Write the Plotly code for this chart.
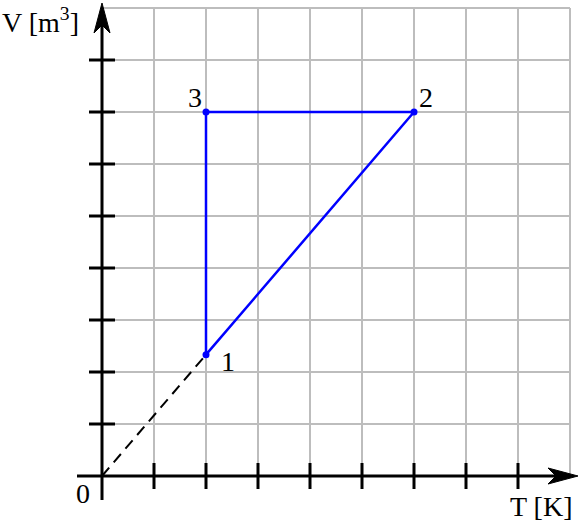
import plotly.graph_objects as go

# ---- data ----
cycle_T = [2, 6, 2, 2]          # 1 -> 2 -> 3 -> 1
cycle_V = [7/3, 7, 7, 7/3]
point_labels = ["1", "2", "3"]
point_T = [2, 6, 2]
point_V = [7/3, 7, 7]
dash_T = [0, 2]
dash_V = [0, 7/3]
tick_vals = [1, 2, 3, 4, 5, 6, 7, 8]
grid_vals = [1, 2, 3, 4, 5, 6, 7, 8, 9]
grid_max = 9

# ---- geometry (pixel scale) ----
W, H = 579, 524
ox, oy, unit = 102, 476, 52.0
x_range = [-ox / unit, (W - ox) / unit]
y_range = [-(H - oy) / unit, oy / unit]
px = 1 / unit

FONT = "Liberation Serif"
FS = 28

fig = go.Figure()

# grid
gx, gy = [], []
for g in grid_vals:
    gx += [g, g, None]; gy += [0, grid_max, None]
    gx += [0, grid_max, None]; gy += [g, g, None]
fig.add_trace(go.Scatter(x=gx, y=gy, mode="lines",
                         line=dict(color="#bdbdbd", width=2), hoverinfo="skip"))

# axes lines
x_tip = (578 - ox) / unit
y_tip = (oy - 3) / unit
fig.add_shape(type="line", x0=-25 * px, y0=0, x1=x_tip - 20 * px, y1=0,
              line=dict(color="black", width=3))
fig.add_shape(type="line", x0=0, y0=-24 * px, x1=0, y1=y_tip - 20 * px,
              line=dict(color="black", width=3))

# arrowheads (stealth)
L, HW, N = 30 * px, 8 * px, 22 * px
fig.add_shape(type="path",
              path=f"M {x_tip},0 L {x_tip-L},{HW} L {x_tip-N},0 L {x_tip-L},{-HW} Z",
              fillcolor="black", line=dict(color="black", width=1))
fig.add_shape(type="path",
              path=f"M 0,{y_tip} L {HW},{y_tip-L} L 0,{y_tip-N} L {-HW},{y_tip-L} Z",
              fillcolor="black", line=dict(color="black", width=1))

# ticks
tl = 13 * px
for t in tick_vals:
    fig.add_shape(type="line", x0=t, x1=t, y0=-tl, y1=tl,
                  line=dict(color="black", width=3))
    fig.add_shape(type="line", x0=-tl, x1=tl, y0=t, y1=t,
                  line=dict(color="black", width=3))

# dashed extension through the origin
fig.add_trace(go.Scatter(x=dash_T, y=dash_V, mode="lines",
                         line=dict(color="black", width=2, dash="11px,7px"),
                         hoverinfo="skip"))

# cycle
fig.add_trace(go.Scatter(x=cycle_T, y=cycle_V, mode="lines",
                         line=dict(color="#0000ff", width=2.5), hoverinfo="skip"))
fig.add_trace(go.Scatter(x=point_T, y=point_V, mode="markers",
                         marker=dict(color="#0000ff", size=7), hoverinfo="skip"))

# point labels
shifts = {"1": (22, -7), "2": (12, 15), "3": (-11, 15)}
for lab, t, v in zip(point_labels, point_T, point_V):
    xs, ys = shifts[lab]
    fig.add_annotation(x=t, y=v, text=lab, showarrow=False, xshift=xs, yshift=ys,
                       font=dict(family=FONT, size=FS, color="black"))

# axis labels
fig.add_annotation(x=0, y=0, text="0", showarrow=False, xshift=-19, yshift=-17,
                   font=dict(family=FONT, size=FS, color="black"))
fig.add_annotation(x=(541 - ox) / unit, y=-(506 - oy) / unit, text="T [K]",
                   showarrow=False, font=dict(family=FONT, size=FS, color="black"))
fig.add_annotation(x=(40 - ox) / unit, y=(oy - 20) / unit, text="V [m<sup>3</sup>]",
                   showarrow=False, font=dict(family=FONT, size=FS, color="black"))

fig.update_layout(
    width=W, height=H, autosize=False,
    margin=dict(l=0, r=0, t=0, b=0),
    plot_bgcolor="white", paper_bgcolor="white",
    showlegend=False,
    xaxis=dict(range=x_range, visible=False, fixedrange=True),
    yaxis=dict(range=y_range, visible=False, fixedrange=True),
)
fig.write_html("out.html", config={"displayModeBar": False},
               post_script="document.body.style.margin='0';document.body.style.overflow='hidden';")
